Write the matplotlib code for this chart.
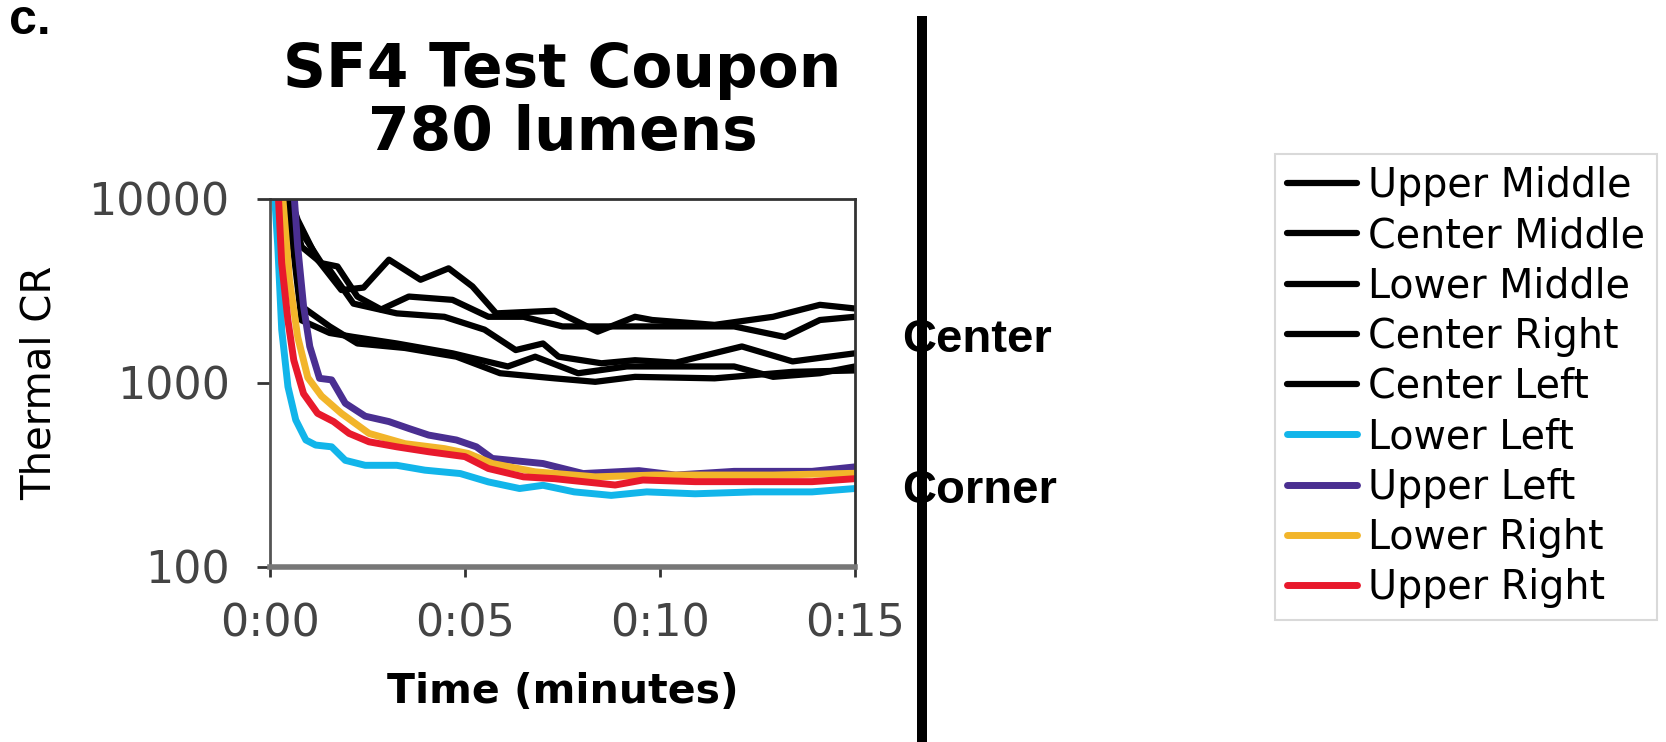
import matplotlib
matplotlib.use("Agg")
import matplotlib.pyplot as plt
from matplotlib.lines import Line2D

# time in minutes, thermal CR values
upper_middle_t = [0.4, 0.71, 1.22, 1.83, 2.4, 3.05, 3.86, 4.58, 5.19, 5.8, 6.9, 7.3, 7.8, 8.4, 9.36, 9.8, 11.4, 12.9, 14.1, 15.0]
upper_middle_v = [12000, 7700, 4680, 3200, 3300, 4680, 3640, 4200, 3350, 2390, 2450, 2470, 2200, 1900, 2290, 2200, 2070, 2290, 2660, 2540]

center_middle_t = [0.4, 0.71, 1.32, 1.73, 2.24, 2.85, 3.56, 4.68, 5.6, 6.5, 7.5, 8.34, 9.4, 10.4, 11.9, 13.2, 14.1, 15.0]
center_middle_v = [12000, 7100, 4480, 4300, 2950, 2510, 2950, 2830, 2290, 2290, 2030, 2030, 2030, 2030, 2030, 1780, 2200, 2290]

lower_middle_t = [0.4, 0.81, 1.53, 2.14, 3.25, 4.47, 5.5, 6.3, 7.0, 7.4, 8.5, 9.36, 10.4, 12.1, 13.4, 15.0]
lower_middle_v = [12000, 5500, 4120, 2700, 2390, 2290, 1950, 1510, 1640, 1390, 1280, 1330, 1290, 1580, 1310, 1450]

center_right_t = [0.4, 0.81, 1.53, 2.24, 3.46, 4.78, 5.9, 7.3, 8.34, 9.36, 11.4, 13.4, 15.0]
center_right_v = [12000, 2610, 2030, 1640, 1550, 1390, 1130, 1060, 1015, 1080, 1060, 1150, 1170]

center_left_t = [0.4, 0.81, 1.53, 2.14, 3.25, 4.68, 6.1, 6.8, 7.9, 9.15, 10.4, 11.9, 12.9, 14.1, 15.0]
center_left_v = [12000, 2190, 1870, 1780, 1640, 1450, 1230, 1390, 1130, 1230, 1230, 1230, 1080, 1130, 1230]

lower_left_t = [0.1, 0.2, 0.3, 0.46, 0.66, 0.92, 1.17, 1.58, 1.93, 2.44, 3.25, 3.97, 4.88, 5.6, 6.4, 7.0, 7.8, 8.75, 9.66, 10.9, 12.4, 13.9, 15.0]
lower_left_v = [12000, 5520, 1950, 955, 630, 490, 460, 450, 380, 357, 357, 336, 322, 290, 267, 278, 256, 245, 256, 250, 256, 256, 267]

upper_left_t = [0.6, 0.71, 0.86, 1.02, 1.27, 1.58, 1.93, 2.44, 3.05, 3.56, 4.07, 4.78, 5.29, 5.7, 7.0, 8.03, 9.46, 10.4, 11.9, 13.9, 15.0]
upper_left_v = [12000, 5520, 2620, 1580, 1060, 1040, 776, 660, 617, 566, 521, 490, 450, 389, 365, 322, 334, 316, 331, 331, 350]

lower_right_t = [0.3, 0.5, 0.71, 0.97, 1.32, 1.83, 2.54, 3.46, 4.47, 5.08, 5.7, 6.8, 8.34, 9.86, 11.4, 12.9, 15.0]
lower_right_v = [12000, 3640, 1780, 1070, 850, 684, 532, 468, 440, 414, 365, 329, 309, 316, 316, 316, 323]

upper_right_t = [0.2, 0.3, 0.46, 0.61, 0.86, 1.22, 1.63, 2.03, 2.54, 3.25, 4.07, 5.0, 5.6, 6.5, 7.3, 8.85, 9.56, 10.9, 12.4, 13.9, 15.0]
upper_right_v = [12000, 4480, 2190, 1330, 875, 684, 617, 532, 479, 450, 423, 398, 343, 309, 302, 279, 297, 291, 291, 291, 302]

series_names = ["Upper Middle", "Center Middle", "Lower Middle", "Center Right", "Center Left",
                "Lower Left", "Upper Left", "Lower Right", "Upper Right"]
series_t = [upper_middle_t, center_middle_t, lower_middle_t, center_right_t, center_left_t,
            lower_left_t, upper_left_t, lower_right_t, upper_right_t]
series_v = [upper_middle_v, center_middle_v, lower_middle_v, center_right_v, center_left_v,
            lower_left_v, upper_left_v, lower_right_v, upper_right_v]
colors = ["black", "black", "black", "black", "black", "#12b5ea", "#4a2f91", "#f2b52a", "#e8192c"]
widths = [4.5, 4.5, 4.5, 4.5, 4.5, 5, 5, 5, 5]

x_ticks = [0, 5, 10, 15]
x_tick_labels = ["0:00", "0:05", "0:10", "0:15"]
y_ticks = [100, 1000, 10000]
y_tick_labels = ["100", "1000", "10000"]

fig = plt.figure(figsize=(16.66, 7.42), dpi=100)
ax = fig.add_axes([270 / 1666, 1 - 567 / 742, (855 - 270) / 1666, (567 - 199) / 742])

for t, v, c, w, name in zip(series_t, series_v, colors, widths, series_names):
    ax.plot(t, v, color=c, lw=w, label=name, solid_joinstyle="round", solid_capstyle="round")

ax.set_yscale("log")
ax.set_xlim(0, 15)
ax.set_ylim(100, 10000)
ax.set_xticks(x_ticks)
ax.set_xticklabels(x_tick_labels)
ax.set_yticks(y_ticks)
ax.set_yticklabels(y_tick_labels)
ax.minorticks_off()
ax.tick_params(axis="both", direction="out", width=2, color="#333333",
               labelsize=32, labelcolor="#444444")
ax.tick_params(axis="x", length=7.5, pad=18)
ax.tick_params(axis="y", length=9.5, pad=19.5)

for side in ["top", "right", "left"]:
    ax.spines[side].set_color("#333333")
    ax.spines[side].set_linewidth(2)
ax.spines["left"].set_color("#555555")
ax.spines["bottom"].set_color("#777777")
ax.spines["bottom"].set_linewidth(4)

ax.set_title("SF4 Test Coupon\n780 lumens", fontsize=43, fontweight="bold", pad=35, linespacing=1.1)
ax.set_xlabel("Time (minutes)", fontsize=29.5, fontweight="bold", labelpad=19)
ax.set_ylabel("Thermal CR", fontsize=29, labelpad=21)

leg = fig.legend(loc="center", bbox_to_anchor=(1466 / 1666, 1 - 387 / 742), fontsize=28.5,
                 handlelength=1.75, handletextpad=0.28, labelspacing=0.26, borderpad=0.3,
                 frameon=True, fancybox=False)
leg.get_frame().set_edgecolor("#d0d0d0")
leg.get_frame().set_linewidth(1.5)

fig.text(9 / 1666, 1 - 34 / 742, "c.", fontsize=36, fontweight="bold",
         family="Liberation Sans", va="baseline", ha="left")
fig.text(902 / 1666, 1 - 352 / 742, "Center", fontsize=34, fontweight="bold",
         family="Liberation Sans", va="baseline", ha="left", zorder=3)
fig.text(902 / 1666, 1 - 503 / 742, "Corner", fontsize=34, fontweight="bold",
         family="Liberation Sans", va="baseline", ha="left", zorder=3)
fig.add_artist(Line2D([922 / 1666, 922 / 1666], [1 - 21 / 742, 0], transform=fig.transFigure,
                      color="black", lw=7.2, zorder=4))

fig.savefig("out.png", dpi=100)
